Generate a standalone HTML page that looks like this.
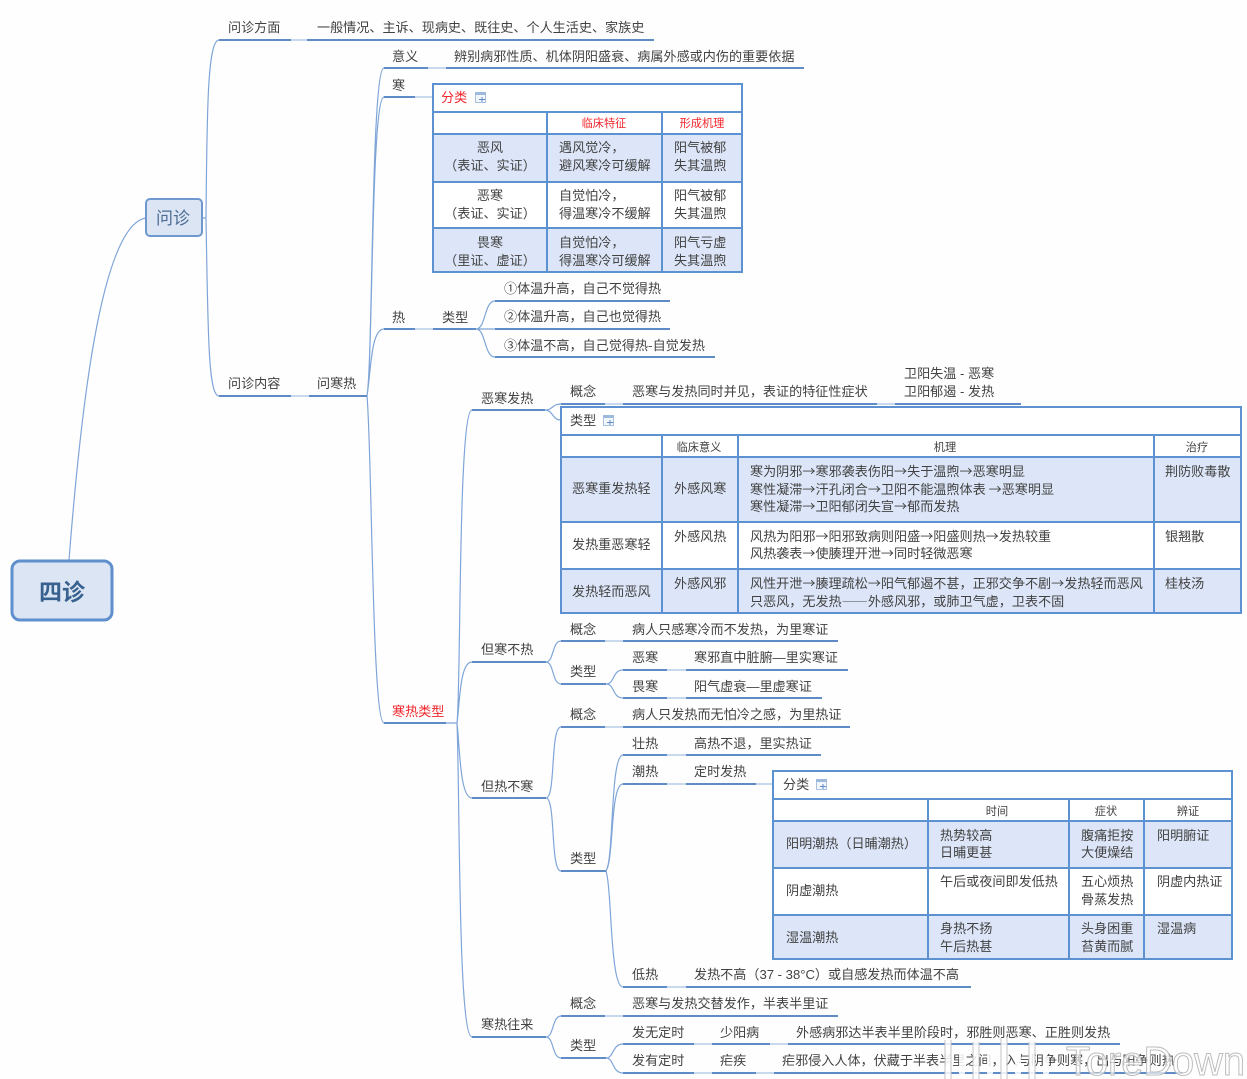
<!DOCTYPE html>
<html lang="zh"><head><meta charset="utf-8"><title>四诊</title>
<style>
html,body{margin:0;padding:0;background:#fefefe;width:1247px;height:1079px;overflow:hidden}
svg{display:block;filter:blur(.35px)}
text{font-family:"Liberation Sans","Noto Sans CJK SC",sans-serif;font-size:13.1px;fill:#424242}
.m{font-family:"Noto Sans CJK SC",sans-serif}
.c{text-anchor:middle}
.h{font-size:11.2px}
text.r{fill:#f0262c}
.u{stroke:#5f8cc6;stroke-width:2;fill:none}
.l{stroke:#a9c3e3;stroke-width:1.2;fill:none}
.k{stroke:#7fa5d8;stroke-width:1.2;fill:none}
.t{stroke:#5c91d2;stroke-width:2;fill:none}
.f{fill:#dde6f8}
.w{fill:#fff}
.i{fill:#f3f7fc;stroke:#a8c2e0;stroke-width:1}
.ih{fill:#9db9dc}
.ip{stroke:#5f8cc6;stroke-width:1;fill:none}
</style></head><body>
<svg width="1247" height="1079" viewBox="0 0 1247 1079" xmlns="http://www.w3.org/2000/svg">
<!-- connector curves -->
<g class="k">
<path class="k" d="M69 560C80 420 100 225 146 218"/>
<path class="k" d="M203 218H206M206 218C207 120 207 40 219 40M206 218C208 330 208 396 219 396"/>
<path class="k" d="M367 396C373 360 371 68 384 68M367 396C373 360 371 97 384 97M367 396C371 370 371 329 384 329M367 396C372 450 372 723 384 723"/>
<path class="k" d="M476 329C486 329 484 301 495 301M476 329H495M476 329C486 329 484 357 495 357"/>
<path class="k" d="M446 723H457M457 723C461 690 458 410 472 410M457 723C460 700 460 662 472 662M457 723C460 750 460 798 472 798M457 723C460 800 458 1037 472 1037"/>
<path class="k" d="M545 410C553 410 552 404 561 404M545 410C553 410 552 420 561 420"/>
<path class="k" d="M546 662C554 662 552 641 561 641M546 662C554 662 552 684 561 684"/>
<path class="k" d="M606 684C615 684 612 670 623 670M606 684C615 684 612 698 623 698"/>
<path class="k" d="M546 798C556 798 550 727 561 727M546 798C556 798 550 871 561 871"/>
<path class="k" d="M606 871C614 860 610 755 623 755M606 871C614 860 610 784 623 784M606 871C612 890 610 987 623 987"/>
<path class="k" d="M546 1037C554 1037 552 1016 561 1016M546 1037C554 1037 552 1058 561 1058"/>
<path class="k" d="M606 1058C614 1058 612 1044 623 1044M606 1058C614 1058 612 1073 623 1073"/>
</g>
<!-- light joins -->
<path class="l" d="M291 40H307M428 68H446M415 97H433M291 396H309M415 329H433M605 404H623M877 404H895M605 641H623M667 670H686M667 698H686M605 727H623M667 755H686M667 784H686M756 784H773M667 987H686M605 1016H623M694 1044H712M770 1044H788M694 1073H712M756 1073H774"/>
<!-- underlines -->
<path class="u" d="M219 40H291M307 40H654M384 68H428M446 68H804M384 97H415M219 396H291M309 396H367M384 329H415M433 329H476M495 301H670M495 329H670M495 357H715M384 723H446M472 410H545M561 404H605M623 404H877M895 404H1021M472 662H546M561 641H605M623 641H838M561 684H606M623 670H667M686 670H848M623 698H667M686 698H822M472 798H546M561 727H605M623 727H850M561 871H606M623 755H667M686 755H821M623 784H667M686 784H756M623 987H667M686 987H971M472 1037H546M561 1016H605M623 1016H838M561 1058H606M623 1044H694M712 1044H770M788 1044H1120M623 1073H694M712 1073H756M774 1073H1182"/>
<!-- root nodes -->
<rect x="12" y="561" width="100" height="59" rx="8" fill="#dbe5f3" stroke="#5f8fcc" stroke-width="3"/>
<text x="62" y="600" class="c" style="font-size:23px;font-weight:700;fill:#38618f">四诊</text>
<rect x="146" y="199" width="56" height="37" rx="4" fill="#dbe5f3" stroke="#6e98cf" stroke-width="2"/>
<text x="173" y="224" class="c" style="font-size:17px;fill:#4b6c96">问诊</text>
<!-- table 1 -->
<rect class="w" x="433" y="84" width="309" height="188"/>
<rect class="f" x="433" y="134" width="309" height="48"/>
<rect class="f" x="433" y="228" width="309" height="44"/>
<path class="t" d="M433 84H742V272H433ZM433 112H742M433 134H742M433 182H742M433 228H742M547 112V272M662 112V272"/>
<text x="441" y="102" class="r">分类</text>
<rect class="i" x="475.500" y="92.500" width="10" height="10"/><rect class="ih" x="475" y="92" width="11" height="3"/><path class="ip" d="M479 99.500H485M482 97V102"/>
<text x="604" y="127" class="c h r">临床特征</text>
<text x="702" y="127" class="c h r">形成机理</text>
<text x="490" y="152" class="c">恶风</text><text x="490" y="170" class="c">（表证、实证）</text>
<text x="559" y="152">遇风觉冷，</text><text x="559" y="170">避风寒冷可缓解</text>
<text x="674" y="152">阳气被郁</text><text x="674" y="170">失其温煦</text>
<text x="490" y="200" class="c">恶寒</text><text x="490" y="218" class="c">（表证、实证）</text>
<text x="559" y="200">自觉怕冷，</text><text x="559" y="218">得温寒冷不缓解</text>
<text x="674" y="200">阳气被郁</text><text x="674" y="218">失其温煦</text>
<text x="490" y="247" class="c">畏寒</text><text x="490" y="265" class="c">（里证、虚证）</text>
<text x="559" y="247">自觉怕冷，</text><text x="559" y="265">得温寒冷可缓解</text>
<text x="674" y="247">阳气亏虚</text><text x="674" y="265">失其温煦</text>
<!-- table 2 -->
<rect class="w" x="561" y="407" width="680" height="206"/>
<rect class="f" x="561" y="457" width="680" height="65"/>
<rect class="f" x="561" y="569" width="680" height="44"/>
<path class="t" d="M561 407H1241V613H561ZM561 435H1241M561 457H1241M561 522H1241M561 569H1241M662 435V613M738 435V613M1154 435V613"/>
<text x="570" y="425">类型</text>
<rect class="i" x="603.500" y="415.500" width="10" height="10"/><rect class="ih" x="603" y="415" width="11" height="3"/><path class="ip" d="M607 422.500H613M610 420V425"/>
<text x="699" y="451" class="c h">临床意义</text><text x="945" y="451" class="c h">机理</text><text x="1197" y="451" class="c h">治疗</text>
<text x="572" y="493">恶寒重发热轻</text><text x="674" y="493">外感风寒</text>
<text x="750" y="476" class="m">寒为阴邪→寒邪袭表伤阳→失于温煦→恶寒明显</text>
<text x="750" y="494" class="m">寒性凝滞→汗孔闭合→卫阳不能温煦体表 →恶寒明显</text>
<text x="750" y="511" class="m">寒性凝滞→卫阳郁闭失宣→郁而发热</text>
<text x="1165" y="476">荆防败毒散</text>
<text x="572" y="549">发热重恶寒轻</text><text x="674" y="541">外感风热</text>
<text x="750" y="541" class="m">风热为阳邪→阳邪致病则阳盛→阳盛则热→发热较重</text>
<text x="750" y="558" class="m">风热袭表→使腠理开泄→同时轻微恶寒</text>
<text x="1165" y="541">银翘散</text>
<text x="572" y="596">发热轻而恶风</text><text x="674" y="588">外感风邪</text>
<text x="750" y="588" class="m">风性开泄→腠理疏松→阳气郁遏不甚，正邪交争不剧→发热轻而恶风</text>
<text x="750" y="606" class="m">只恶风，无发热——外感风邪，或肺卫气虚，卫表不固</text>
<text x="1165" y="588">桂枝汤</text>
<!-- table 3 -->
<rect class="w" x="773" y="771" width="459" height="188"/>
<rect class="f" x="773" y="821" width="459" height="47"/>
<rect class="f" x="773" y="915" width="459" height="44"/>
<path class="t" d="M773 771H1232V959H773ZM773 799H1232M773 821H1232M773 868H1232M773 915H1232M928 799V959M1069 799V959M1144 799V959"/>
<text x="783" y="789">分类</text>
<rect class="i" x="816.500" y="779.500" width="10" height="10"/><rect class="ih" x="816" y="779" width="11" height="3"/><path class="ip" d="M820 786.500H826M823 784V789"/>
<text x="997" y="815" class="c h">时间</text><text x="1106" y="815" class="c h">症状</text><text x="1188" y="815" class="c h">辨证</text>
<text x="786" y="848">阳明潮热（日晡潮热）</text>
<text x="940" y="840">热势较高</text><text x="940" y="857">日晡更甚</text>
<text x="1081" y="840">腹痛拒按</text><text x="1081" y="857">大便燥结</text>
<text x="1157" y="840">阳明腑证</text>
<text x="786" y="895">阴虚潮热</text>
<text x="940" y="886">午后或夜间即发低热</text>
<text x="1081" y="886">五心烦热</text><text x="1081" y="904">骨蒸发热</text>
<text x="1157" y="886">阴虚内热证</text>
<text x="786" y="942">湿温潮热</text>
<text x="940" y="933">身热不扬</text><text x="940" y="951">午后热甚</text>
<text x="1081" y="933">头身困重</text><text x="1081" y="951">苔黄而腻</text>
<text x="1157" y="933">湿温病</text>
<!-- labels -->
<text x="228" y="32">问诊方面</text>
<text x="317" y="32">一般情况、主诉、现病史、既往史、个人生活史、家族史</text>
<text x="392" y="61">意义</text>
<text x="454" y="61">辨别病邪性质、机体阴阳盛衰、病属外感或内伤的重要依据</text>
<text x="392" y="90">寒</text>
<text x="392" y="322">热</text>
<text x="442" y="322">类型</text>
<text x="504" y="293" class="m">①体温升高，自己不觉得热</text>
<text x="504" y="321" class="m">②体温升高，自己也觉得热</text>
<text x="504" y="350" class="m">③体温不高，自己觉得热-自觉发热</text>
<text x="228" y="388">问诊内容</text>
<text x="317" y="388">问寒热</text>
<text x="392" y="716" class="r">寒热类型</text>
<text x="481" y="403">恶寒发热</text>
<text x="570" y="396">概念</text>
<text x="632" y="396">恶寒与发热同时并见，表证的特征性症状</text>
<text x="904" y="378">卫阳失温 - 恶寒</text>
<text x="904" y="396">卫阳郁遏 - 发热</text>
<text x="481" y="654">但寒不热</text>
<text x="570" y="634">概念</text>
<text x="632" y="634">病人只感寒冷而不发热，为里寒证</text>
<text x="570" y="676">类型</text>
<text x="632" y="662">恶寒</text><text x="694" y="662">寒邪直中脏腑—里实寒证</text>
<text x="632" y="691">畏寒</text><text x="694" y="691">阳气虚衰—里虚寒证</text>
<text x="481" y="791">但热不寒</text>
<text x="570" y="719">概念</text>
<text x="632" y="719">病人只发热而无怕冷之感，为里热证</text>
<text x="570" y="863">类型</text>
<text x="632" y="748">壮热</text><text x="694" y="748">高热不退，里实热证</text>
<text x="632" y="776">潮热</text><text x="694" y="776">定时发热</text>
<text x="632" y="979">低热</text><text x="694" y="979">发热不高（37 - 38°C）或自感发热而体温不高</text>
<text x="481" y="1029">寒热往来</text>
<text x="570" y="1008">概念</text>
<text x="632" y="1008">恶寒与发热交替发作，半表半里证</text>
<text x="570" y="1050">类型</text>
<text x="632" y="1037">发无定时</text><text x="720" y="1037">少阳病</text>
<text x="796" y="1037">外感病邪达半表半里阶段时，邪胜则恶寒、正胜则发热</text>
<text x="632" y="1065">发有定时</text><text x="720" y="1065">疟疾</text>
<text x="782" y="1065">疟邪侵入人体，伏藏于半表半里之间，入与阴争则寒，出与阳争则热</text>
<!-- watermark -->
<path d="M948 1079V1040M962 1079V1050M976 1079V1042M990 1079V1052M1004 1079V1038M1018 1079V1052M1032 1079V1042M1046 1079V1056" stroke="#fff" stroke-width="6" fill="none" opacity=".85"/>
<path d="M945 1079V1040M951 1079V1040M973 1079V1042M979 1079V1042M1001 1079V1038M1007 1079V1038M1029 1079V1042M1035 1079V1042" stroke="#c4c4c4" stroke-width="1" fill="none"/>
<text x="1066" y="1075" textLength="179" lengthAdjust="spacingAndGlyphs" style="font-size:41px;fill:#fff;fill-opacity:.7;stroke:#bcbcbc;stroke-width:1">ToreDown</text>
</svg>
</body></html>
